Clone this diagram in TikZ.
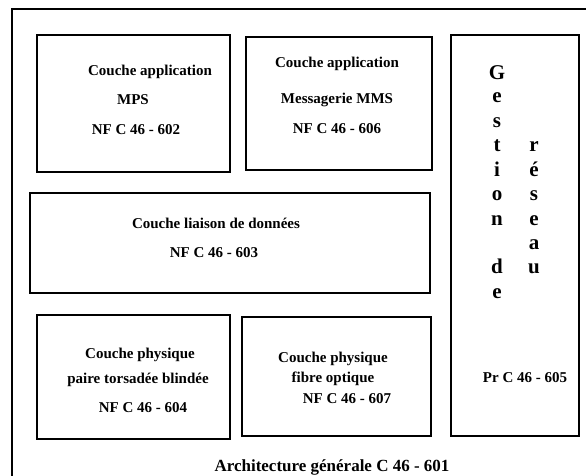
\documentclass[tikz,border=0pt]{standalone}
\usepackage{fontspec}
\setmainfont{Liberation Serif}
\begin{document}
\begin{tikzpicture}[x=1pt,y=-1pt,
  box/.style={draw, line width=1.5pt, inner sep=0pt, outer sep=0pt},
  lbl/.style={font=\bfseries\fontsize{15}{18}\selectfont, anchor=base, inner sep=0pt},
  ttl/.style={font=\bfseries\fontsize{17}{20}\selectfont, anchor=base, inner sep=0pt},
  letter/.style={font=\bfseries\fontsize{21}{24}\selectfont, anchor=base, inner sep=0pt},
]
\useasboundingbox (0,0) rectangle (586,476);
\clip (0,0) rectangle (586,476);
% outer frame (cut off at right and bottom)
\node[box, minimum width=700pt, minimum height=700pt, anchor=north west] (outer) at (12,9) {};
% boxes
\node[box, minimum width=193pt, minimum height=137pt] (mps) at (133.5,103.5) {};
\node[box, minimum width=186pt, minimum height=133pt] (mms) at (339,103.5) {};
\node[box, minimum width=400pt, minimum height=100pt] (liaison) at (230,243) {};
\node[box, minimum width=193pt, minimum height=124pt] (paire) at (133.5,377) {};
\node[box, minimum width=189pt, minimum height=119pt] (fibre) at (336.5,376.5) {};
\node[box, minimum width=128pt, minimum height=401pt] (gestion) at (515,235.5) {};
% texts
\node[lbl] (t1) at (150,76) {Couche application};
\node[lbl] (t2) at (133,105) {MPS};
\node[lbl] (t3) at (136,135) {NF C 46 - 602};
\node[lbl] (t4) at (337,68) {Couche application};
\node[lbl] (t5) at (337,104) {Messagerie MMS};
\node[lbl] (t6) at (337,133) {NF C 46 - 606};
\node[lbl] (t7) at (216,228) {Couche liaison de données};
\node[lbl] (t8) at (214,257) {NF C 46 - 603};
\node[lbl] (t9) at (140,358) {Couche physique};
\node[lbl] (t10) at (138,383) {paire torsadée blindée};
\node[lbl] (t11) at (143,412) {NF C 46 - 604};
\node[lbl] (t12) at (333,362) {Couche physique};
\node[lbl] (t13) at (333,382) {fibre optique};
\node[lbl] (t14) at (347,403) {NF C 46 - 607};
\node[lbl] (t15) at (525,382) {Pr C 46 - 605};
\node[ttl] (title) at (332,471) {Architecture générale C 46 - 601};
% vertical letters
\node[letter] (g0) at (497,80) {G};
\foreach \ch/\k [count=\i] in {e/1,s/2,t/3,i/4,o/5,n/6,d/8,e/9}{
  \node[letter] (ga\i) at (497,{103+24.4*(\k-1)}) {\ch};
}
\foreach \ch/\k [count=\i] in {r/3,é/4,s/5,e/6,a/7,u/8}{
  \node[letter] (gb\i) at (534,{103+24.4*(\k-1)}) {\ch};
}
\end{tikzpicture}
\end{document}
